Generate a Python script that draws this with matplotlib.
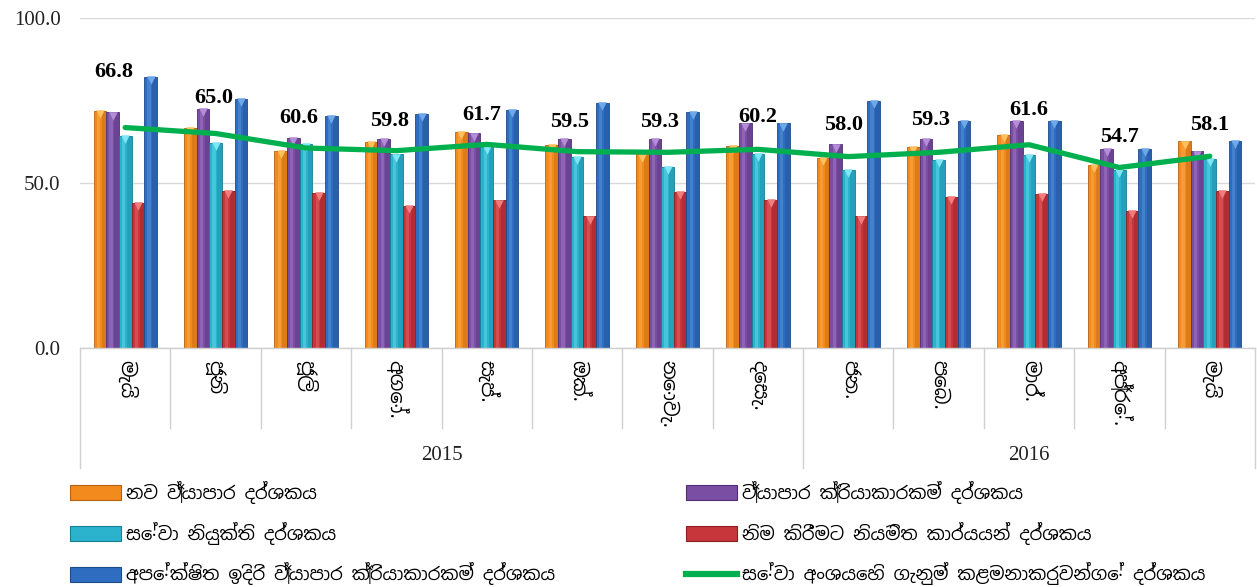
import matplotlib
matplotlib.use("Agg")
import matplotlib.pyplot as plt
import matplotlib.transforms as mtransforms
from matplotlib.lines import Line2D
from matplotlib.patches import Patch
import numpy as np

months = ["මැයි", "ජූනි", "ජූලි", "අගෝ.", "සැප්.", "ඔක්.", "නොවැ.", "දෙසැ.",
          "ජන.", "පෙබ.", "මාර්.", "අප්‍රේ.", "මැයි"]
years = ["2015", "2016"]
year_span = [(0, 7), (8, 12)]

series_names = [
    "නව ව්‍යාපාර දර්ශකය",
    "ව්‍යාපාර ක්‍රියාකාරකම් දර්ශකය",
    "සේවා නියුක්ති දර්ශකය",
    "නිම කිරීමට නියමිත කාර්යයන් දර්ශකය",
    "අපේක්ෂිත ඉදිරි ව්‍යාපාර ක්‍රියාකාරකම් දර්ශකය",
]
line_name = "සේවා අංශයෙහි ගැනුම් කළමනාකරුවන්ගේ දර්ශකය"

new_business = [71.9, 66.8, 59.8, 62.5, 65.4, 61.5, 58.7, 61.3, 57.6, 61.0, 64.5, 55.6, 62.6]
business_activity = [71.4, 72.5, 63.7, 63.4, 65.0, 63.4, 63.4, 68.1, 61.7, 63.4, 68.8, 60.4, 59.6]
employment = [64.2, 62.1, 61.8, 58.7, 61.0, 57.9, 54.8, 58.9, 53.9, 57.1, 58.5, 53.9, 57.4]
backlog = [44.0, 47.7, 47.1, 43.1, 44.7, 39.9, 47.4, 44.9, 39.9, 45.9, 46.7, 41.6, 47.6]
expected_activity = [82.2, 75.5, 70.4, 70.9, 72.1, 74.3, 71.5, 68.1, 74.9, 68.8, 68.8, 60.4, 62.8]
pmi = [66.8, 65.0, 60.6, 59.8, 61.7, 59.5, 59.3, 60.2, 58.0, 59.3, 61.6, 54.7, 58.1]

# label placement (layout only)
label_y = [83.6, 75.8, 69.7, 68.8, 70.6, 68.5, 68.5, 70.0, 67.6, 69.1, 72.1, 63.9, 67.6]
label_dx = [-0.13, -0.02, -0.08, -0.08, -0.06, -0.08, -0.09, 0.0, -0.05, -0.09, 0.0, 0.0, 0.0]

colors = ["#F28A1E", "#7A4EA3", "#2BB3CE", "#C6363A", "#2E6DBF"]
dark = ["#B8600E", "#4F2F73", "#177F95", "#8A1E22", "#1D4A8A"]
light = ["#FFC060", "#B48CD8", "#7FE6F5", "#F07C7C", "#6FA8E8"]
green = "#00B04F"

SIN = ['Noto Sans Sinhala', 'Abhaya Libre', 'DejaVu Sans']
plt.rcParams['font.family'] = SIN

fig = plt.figure(figsize=(12.57, 5.87), dpi=100)
ax = fig.add_axes([80 / 1257, 239 / 587, 1175 / 1257, 330 / 587])

x = np.arange(len(months))
bw = 0.14
data = [new_business, business_activity, employment, backlog, expected_activity]
for i, vals in enumerate(data):
    off = (i - 2) * bw
    ax.bar(x + off, vals, width=bw, color=colors[i], edgecolor=dark[i], linewidth=0.6, zorder=2)
    ax.bar(x + off + bw * 0.32, vals, width=bw * 0.36, color=dark[i], alpha=0.35, linewidth=0, zorder=2.1)
    ax.bar(x + off - bw * 0.12, vals, width=bw * 0.25, color=light[i], alpha=0.35, linewidth=0, zorder=2.1)
    ax.scatter(x + off, np.array(vals) - 1.0, marker='v', s=38, color=light[i], zorder=2.2, linewidths=0)

ax.plot(x, pmi, color=green, linewidth=3.8, solid_capstyle='round', solid_joinstyle='round', zorder=3)

for xi, v, ly, dx in zip(x, pmi, label_y, label_dx):
    ax.text(xi + dx, ly, f"{v:.1f}", ha='center', va='center', fontsize=16,
            fontweight='bold', family='Liberation Serif', zorder=4)

ax.set_xlim(-0.5, len(months) - 0.5)
ax.set_ylim(0, 100)
ax.set_yticks([0, 50, 100])
ax.set_yticklabels(["0.0", "50.0", "100.0"], fontsize=15, family='Liberation Serif', color='#222222')
ax.tick_params(axis='y', length=0, pad=14)
ax.tick_params(axis='x', length=0, labelbottom=False)
for s in ['top', 'right', 'left']:
    ax.spines[s].set_visible(False)
ax.spines['bottom'].set_color('#D0D0D0')
ax.spines['bottom'].set_linewidth(1.0)
ax.grid(axis='y', color='#D9D9D9', linewidth=1.0, zorder=0)
ax.set_axisbelow(True)

trans = mtransforms.blended_transform_factory(ax.transData, ax.transAxes)
px = 1 / 330.0
year_bounds = {-0.5, 7.5, 12.5}
for b in np.arange(-0.5, len(months), 1.0):
    depth = 120 if b in year_bounds else 80
    ax.add_line(Line2D([b, b], [0, -depth * px], transform=trans, color='#D0D0D0',
                       linewidth=1.0, clip_on=False))
for xi, m in zip(x, months):
    ax.text(xi, -12 * px, m, rotation=270, ha='center', va='top', fontsize=14,
            transform=trans, family=SIN)
for yr, (a, b) in zip(years, year_span):
    ax.text((a + b) / 2, -107 * px, yr, ha='center', va='center', fontsize=15,
            family='Liberation Serif', transform=trans, color='#222222')

def bar_handle(i):
    return Patch(facecolor=colors[i], edgecolor=dark[i], linewidth=0.8)

h1 = [bar_handle(0), bar_handle(2), bar_handle(4)]
l1 = [series_names[0], series_names[2], series_names[4]]
h2 = [bar_handle(1), bar_handle(3), Line2D([], [], color=green, linewidth=4.5)]
l2 = [series_names[1], series_names[3], line_name]
common = dict(frameon=False, handlelength=2.8, handleheight=0.9,
              labelspacing=0.98, handletextpad=0.3, borderpad=0, borderaxespad=0,
              prop={'family': SIN, 'size': 13})
fig.legend(h1, l1, loc='upper left', bbox_to_anchor=(70 / 1257, 1 - 481 / 587), **common)
fig.legend(h2, l2, loc='upper left', bbox_to_anchor=(686 / 1257, 1 - 481 / 587), **common)

fig.savefig("out.png", dpi=100)
